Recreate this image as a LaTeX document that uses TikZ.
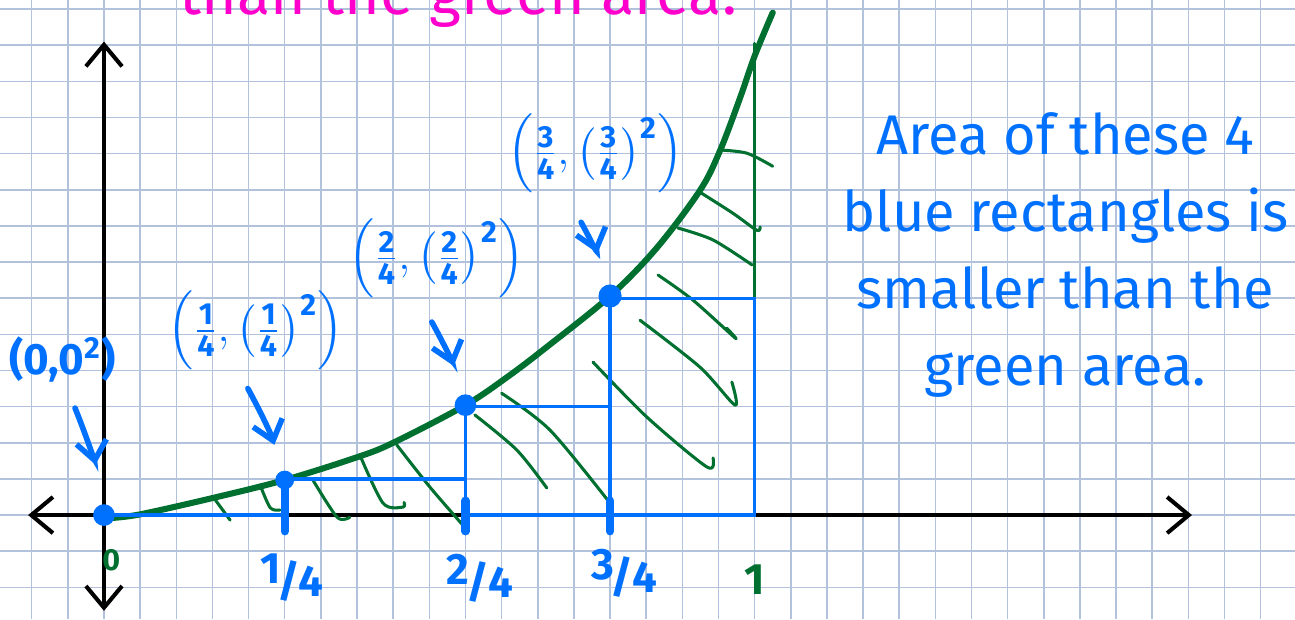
\documentclass[tikz,border=0pt]{standalone}
\usepackage{amsmath}
\usepackage{fontspec}
\setmainfont{Fira Sans}
\usepackage{xcolor}
\usetikzlibrary{arrows.meta,calc}

\definecolor{inkblue}{RGB}{0,112,255}
\definecolor{inkgreen}{RGB}{0,112,48}
\definecolor{inkpink}{RGB}{255,0,204}
\definecolor{paper}{RGB}{178,194,220}

% stacked fraction for the point labels, slashed one for the ticks
\newcommand{\qf}[2]{\frac{\text{#1}}{\text{#2}}}
\newcommand{\tickfrac}[2]{\raisebox{.3em}{#1}\kern-.08em/\kern-.02em#2}

\begin{document}
\begin{tikzpicture}[x=0.5cm,y=0.5cm,
  gridline/.style={paper,line width=0.6pt},
  axis/.style={black,line width=1.6pt,line cap=round},
  curve/.style={inkgreen,line width=2.4pt,line cap=round},
  hatch/.style={inkgreen,line width=1.2pt,line cap=round,line join=round},
  rect/.style={inkblue,line width=1.3pt},
  tickmark/.style={inkblue,line width=3.2pt,line cap=round},
  ptdot/.style={circle,fill=inkblue,inner sep=0pt,minimum size=0.3cm},
  ptlabel/.style={inkblue,font=\LARGE\bfseries,inner sep=1pt},
  ptarrow/.style={inkblue,line width=2.2pt,line cap=round,-{Straight Barb[length=2.6mm,width=4.2mm]}},
  ticklabel/.style={inkblue,font=\LARGE\bfseries},
]
\useasboundingbox (-2.877,-2.877) rectangle (32.95,14.25);

% Grid paper
\draw[gridline,step={(1,1)}] (-2.877,-2.877) grid (32.95,14.25);

% Axes
\draw[axis,{Straight Barb[length=3mm,width=5mm]}-{Straight Barb[length=3mm,width=5mm]}] (-2.1,0) -- (30.1,0);
\draw[axis,{Straight Barb[length=3mm,width=5mm]}-{Straight Barb[length=3mm,width=5mm]}] (0,-2.65) -- (0,13.1);

% Green area under the curve
\draw[hatch] plot[smooth] coordinates {(3.02,0.5) (3.49,-0.14)};
\draw[hatch] plot[smooth] coordinates {(4.32,0.83) (4.6,0.2) (4.87,0.14)};
\draw[hatch] plot[smooth] coordinates {(5.78,0.97) (6.45,-0.06) (6.8,-0.06)};
\draw[hatch] plot[smooth] coordinates {(7.08,1.66) (7.72,0.33) (8.27,0.22) (8.3,0.35)};
\draw[hatch] plot[smooth] coordinates {(8.1,1.94) (9.02,0.77) (9.93,-0.28)};
\draw[hatch] plot[smooth] coordinates {(10.26,2.77) (11.42,1.8) (12.25,0.75)};
\draw[hatch] plot[smooth] coordinates {(11.0,3.37) (12.34,2.35) (14.0,0.33)};
\draw[hatch] plot[smooth] coordinates {(13.53,4.23) (15.02,2.71) (16.68,1.33) (16.85,1.58)};
\draw[hatch] plot[smooth] coordinates {(14.83,5.39) (16.49,4.09) (17.46,3.04) (17.37,3.68)};
\draw[hatch] plot[smooth] coordinates {(15.33,6.64) (16.29,5.95) (17.46,4.9) (17.23,5.17)};
\draw[hatch] plot[smooth] coordinates {(15.88,7.94) (16.85,7.61) (17.93,6.92)};
\draw[hatch] plot[smooth] coordinates {(16.49,8.93) (17.4,8.35) (18.06,7.88) (18.15,7.97)};
\draw[hatch] plot[smooth] coordinates {(17.04,10.1) (17.79,10.01) (18.5,9.65)};
\draw[hatch] (18,6) -- (18,13.05);

% y = x^2
\draw[curve] plot[smooth,tension=0.55] coordinates {(0.2,-0.08) (1,0.02) (3,0.47) (5,0.97) (7,1.6) (8,2.0) (10,3.04) (11.2,3.85) (12.25,4.65) (14,6.06) (15.3,7.4) (16.5,9) (17.05,10.1) (17.6,11.55) (18,12.7) (18.5,13.9)};

% Left endpoint rectangles
\draw[rect] (0,0) -- (5,0);
\draw[rect] (5,0) -- (5,1) -- (10,1);
\draw[rect] (10,0) -- (10,3) -- (14,3);
\draw[rect] (10,0) -- (18,0) -- (18,6) -- (14,6) -- (14,0);
\draw[tickmark] (5,1) -- (5,-0.45);
\foreach \t in {10,14}
  \draw[tickmark] (\t,0.4) -- (\t,-0.45);

% Sample points
\node[ptdot] (p0) at (0,0) {};
\node[ptdot,minimum size=0.26cm] (p1) at (5,0.97) {};
\node[ptdot] (p2) at (10,3.04) {};
\node[ptdot,minimum size=0.32cm] (p3) at (14,6.06) {};

\node[ptlabel] (l0) at (-1.15,4.3) {(0,0\textsuperscript{2})};
\node[ptlabel] (l1) at (4.2,5.1) {$\left(\qf14{,}\left(\qf14\right)^{\text{2}}\right)$};
\node[ptlabel] (l2) at (9.2,7.1) {$\left(\qf24{,}\left(\qf24\right)^{\text{2}}\right)$};
\node[ptlabel] (l3) at (13.6,10.0) {$\left(\qf34{,}\left(\qf34\right)^{\text{2}}\right)$};

\coordinate (a0) at (-0.8,2.96);
\coordinate (a1) at (3.98,3.5);
\coordinate (a2) at (9.07,5.34);
\coordinate (a3) at (13.2,8.1);
\draw[ptarrow,shorten >=0.55cm] (a0) to[bend left=6] (p0);
\draw[ptarrow,shorten >=0.37cm] (a1) to[bend left=6] (p1);
\draw[ptarrow,shorten >=0.41cm] (a2) to[bend left=6] (p2);
\draw[ptarrow,shorten >=0.45cm] (a3) to[bend left=6] (p3);

% Tick labels
\node[inkgreen,font=\large\bfseries] (tzero) at (0.2,-1.25) {0};
\node[ticklabel] (t1) at (5.2,-1.74) {\tickfrac14};
\node[ticklabel] (t2) at (10.4,-1.74) {\tickfrac24};
\node[ticklabel] (t3) at (14.4,-1.6) {\tickfrac34};
\node[inkgreen,font=\LARGE\bfseries] (tone) at (18,-1.8) {1};

% Notes
\node[inkblue,align=center,font=\fontsize{22}{30.3}\selectfont] (note) at (26.6,7.2)
  {Area of these 4\\blue rectangles is\\smaller than the\\green area.};
\node[inkpink,anchor=base,font=\fontsize{24}{28}\selectfont] (head) at (9.8,13.85) {than the green area!};
\end{tikzpicture}
\end{document}
